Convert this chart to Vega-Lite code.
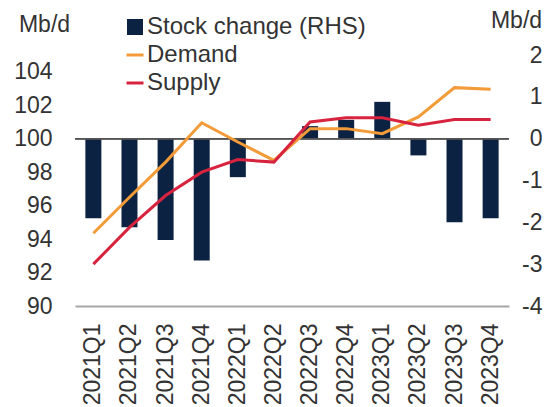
{
  "$schema": "https://vega.github.io/schema/vega-lite/v6.json",
  "width": 434,
  "height": 251,
  "autosize": {"type": "none"},
  "padding": {"left": 75, "top": 55, "right": 41, "bottom": 101},
  "background": "white",
  "config": {
    "view": {"stroke": null},
    "font": "Liberation Sans",
    "axis": {
      "labelFont": "Liberation Sans",
      "labelFontSize": 23,
      "labelColor": "#333333",
      "titleFont": "Liberation Sans",
      "titleFontSize": 23,
      "titleFontWeight": "normal",
      "titleColor": "#333333",
      "grid": false,
      "ticks": false
    },
    "legend": {
      "labelFont": "Liberation Sans",
      "labelFontSize": 24,
      "labelColor": "#333333",
      "labelLimit": 400,
      "padding": 0,
      "title": null
    }
  },
  "data": {
    "values": [
      {"q": "2021Q1", "Stock": -1.9, "Demand": 94.35, "Supply": 92.5},
      {"q": "2021Q2", "Stock": -2.12, "Demand": 96.5, "Supply": 94.7},
      {"q": "2021Q3", "Stock": -2.42, "Demand": 98.6, "Supply": 96.6},
      {"q": "2021Q4", "Stock": -2.91, "Demand": 100.95, "Supply": 98.0},
      {"q": "2022Q1", "Stock": -0.92, "Demand": 99.8, "Supply": 98.75},
      {"q": "2022Q2", "Stock": 0, "Demand": 98.7, "Supply": 98.6},
      {"q": "2022Q3", "Stock": 0.3, "Demand": 100.6, "Supply": 101.0},
      {"q": "2022Q4", "Stock": 0.45, "Demand": 100.6, "Supply": 101.25},
      {"q": "2023Q1", "Stock": 0.88, "Demand": 100.3, "Supply": 101.25},
      {"q": "2023Q2", "Stock": -0.4, "Demand": 101.3, "Supply": 100.8},
      {"q": "2023Q3", "Stock": -2.0, "Demand": 103.05, "Supply": 101.15},
      {"q": "2023Q4", "Stock": -1.9, "Demand": 102.95, "Supply": 101.15}
    ]
  },
  "layer": [
    {
      "layer": [
        {
          "mark": {"type": "bar"},
          "encoding": {
            "x": {
              "field": "q",
              "type": "ordinal",
              "sort": null,
              "scale": {"paddingInner": 0.557, "paddingOuter": 0.287},
              "axis": {
                "title": null,
                "labelAngle": -90,
                "labelPadding": 17,
                "domainColor": "#a6a6a6",
                "domainWidth": 2
              }
            },
            "y": {
              "field": "Stock",
              "type": "quantitative",
              "scale": {"domain": [-4, 2], "nice": false, "zero": false},
              "axis": {
                "orient": "right",
                "values": [-4, -3, -2, -1, 0, 1, 2],
                "labelExpr": "'' + datum.value",
                "domain": false,
                "labelAlign": "right",
                "labelPadding": 33,
                "title": "Mb/d",
                "titleAngle": 0,
                "titleAlign": "center",
                "titleBaseline": "middle",
                "titleX": 7,
                "titleY": -35
              }
            },
            "fill": {
              "datum": "Stock change (RHS)",
              "type": "nominal",
              "scale": {"range": ["#0c2242"]},
              "legend": {
                "orient": "none",
                "legendX": 48,
                "legendY": -40,
                "symbolType": "square",
                "symbolSize": 256,
                "labelOffset": 0
              }
            }
          }
        },
        {
          "mark": {"type": "rule", "color": "#555555", "strokeWidth": 1},
          "encoding": {"y": {"datum": 0}}
        }
      ]
    },
    {
      "transform": [{"fold": ["Demand", "Supply"], "as": ["series", "value"]}],
      "mark": {"type": "line", "strokeWidth": 3},
      "encoding": {
        "x": {"field": "q", "type": "ordinal", "sort": null},
        "y": {
          "field": "value",
          "type": "quantitative",
          "scale": {"domain": [90, 105], "nice": false, "zero": false},
          "axis": {
            "orient": "left",
            "values": [90, 92, 94, 96, 98, 100, 102, 104],
            "domain": false,
            "labelPadding": 23,
            "title": "Mb/d",
            "titleAngle": 0,
            "titleAlign": "center",
            "titleBaseline": "middle",
            "titleX": -31,
            "titleY": -31
          }
        },
        "stroke": {
          "field": "series",
          "type": "nominal",
          "scale": {"domain": ["Demand", "Supply"], "range": ["#f29b38", "#d8233f"]},
          "legend": {
            "orient": "none",
            "legendX": 48,
            "legendY": -12,
            "symbolType": "stroke",
            "symbolSize": 289,
            "symbolStrokeWidth": 3,
            "labelOffset": 0,
            "rowPadding": 4
          }
        }
      }
    }
  ],
  "resolve": {"scale": {"y": "independent"}}
}
